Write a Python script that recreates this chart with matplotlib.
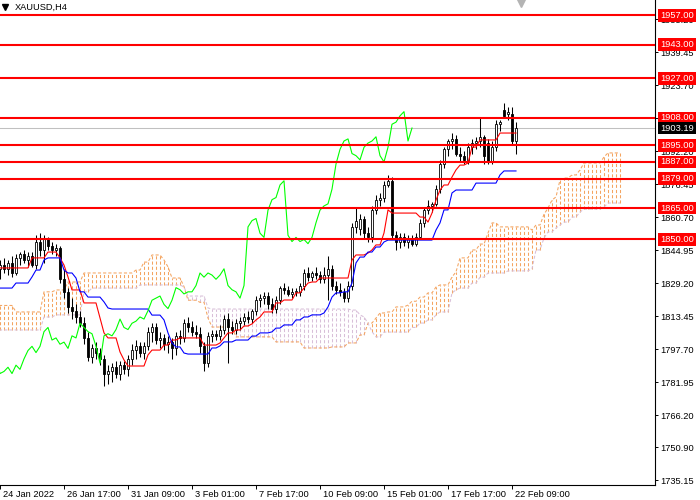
import numpy as np
import matplotlib
matplotlib.use('Agg')
import matplotlib.pyplot as plt
from matplotlib.transforms import blended_transform_factory, ScaledTranslation

plt.rcParams['font.family'] = ['Liberation Sans', 'DejaVu Sans']

# XAUUSD H4 candles (bar index 0..130, one bar = 4 hours)
opens = [1837, 1836, 1838, 1836, 1839, 1834, 1841, 1843, 1840, 1842,
         1838, 1849, 1845, 1850, 1847, 1845, 1846, 1831, 1825, 1818,
         1816, 1813, 1810, 1803, 1794, 1798, 1796, 1793, 1786, 1787,
         1789, 1786, 1790, 1788, 1793, 1797, 1799, 1796, 1799, 1806,
         1808, 1802, 1803, 1800, 1801, 1798, 1804, 1803, 1810, 1808,
         1806, 1805, 1799, 1791, 1804, 1805, 1804, 1807, 1812, 1808,
         1807, 1810, 1811, 1813, 1812, 1816, 1821, 1822, 1823, 1819,
         1817, 1821, 1827, 1826, 1824, 1825, 1825, 1828, 1834, 1832,
         1834, 1833, 1831, 1833, 1836, 1828, 1826, 1825, 1822, 1828,
         1856, 1855, 1860, 1853, 1851, 1864, 1869, 1870, 1876, 1878,
         1852, 1849, 1851, 1849, 1850, 1848, 1851, 1858, 1864, 1866,
         1867, 1874, 1886, 1893, 1897, 1898, 1891, 1890, 1888, 1894,
         1896, 1897, 1899, 1896, 1887, 1894, 1905, 1912, 1910, 1910,
         1897]
highs = [1841, 1840, 1841, 1840, 1842, 1843, 1844, 1845, 1844, 1844,
         1852, 1853, 1852, 1851, 1849, 1848, 1847, 1836, 1827, 1822,
         1819, 1816, 1813, 1806, 1800, 1801, 1798, 1795, 1790, 1791,
         1792, 1792, 1792, 1795, 1800, 1802, 1801, 1801, 1808, 1810,
         1810, 1806, 1805, 1804, 1803, 1806, 1807, 1812, 1813, 1811,
         1809, 1808, 1801, 1806, 1807, 1807, 1809, 1814, 1815, 1811,
         1812, 1813, 1815, 1816, 1817, 1823, 1824, 1825, 1825, 1822,
         1823, 1828, 1829, 1828, 1827, 1827, 1829, 1836, 1837, 1835,
         1837, 1835, 1837, 1842, 1838, 1830, 1829, 1827, 1830, 1858,
         1865, 1862, 1861, 1856, 1866, 1871, 1872, 1878, 1881, 1880,
         1854, 1853, 1853, 1852, 1852, 1853, 1860, 1865, 1869, 1868,
         1876, 1888, 1894, 1898, 1901, 1900, 1894, 1892, 1896, 1898,
         1899, 1908, 1900, 1898, 1897, 1907, 1907, 1915, 1913, 1913,
         1906]
lows = [1834, 1831, 1834, 1833, 1832, 1833, 1838, 1839, 1837, 1837,
        1836, 1842, 1839, 1845, 1843, 1842, 1829, 1822, 1815, 1812,
        1810, 1808, 1800, 1792, 1791, 1793, 1790, 1780, 1781, 1782,
        1784, 1783, 1786, 1785, 1790, 1793, 1794, 1793, 1797, 1801,
        1800, 1798, 1797, 1796, 1793, 1795, 1800, 1801, 1806, 1804,
        1803, 1796, 1787, 1789, 1801, 1802, 1802, 1805, 1791, 1805,
        1805, 1807, 1809, 1810, 1810, 1814, 1818, 1819, 1817, 1815,
        1815, 1819, 1824, 1823, 1822, 1823, 1823, 1826, 1830, 1830,
        1831, 1829, 1829, 1821, 1826, 1824, 1823, 1820, 1820, 1826,
        1853, 1852, 1850, 1849, 1849, 1862, 1866, 1868, 1875, 1850,
        1845, 1846, 1847, 1846, 1847, 1847, 1850, 1856, 1862, 1863,
        1866, 1872, 1884, 1890, 1893, 1890, 1887, 1886, 1886, 1891,
        1893, 1894, 1886, 1886, 1886, 1892, 1902, 1908, 1907, 1895,
        1891]
closes = [1836, 1838, 1836, 1839, 1834, 1841, 1843, 1840, 1842, 1838,
          1849, 1845, 1850, 1847, 1845, 1846, 1831, 1825, 1818, 1816,
          1813, 1810, 1803, 1794, 1798, 1796, 1793, 1786, 1787, 1789,
          1786, 1790, 1788, 1793, 1797, 1799, 1796, 1799, 1806, 1808,
          1802, 1803, 1800, 1801, 1798, 1804, 1803, 1810, 1808, 1806,
          1805, 1799, 1791, 1804, 1805, 1804, 1807, 1812, 1808, 1807,
          1810, 1811, 1813, 1812, 1816, 1821, 1822, 1823, 1819, 1817,
          1821, 1827, 1826, 1824, 1825, 1825, 1828, 1834, 1832, 1834,
          1833, 1831, 1833, 1836, 1828, 1826, 1825, 1822, 1828, 1856,
          1859, 1860, 1853, 1851, 1864, 1869, 1870, 1876, 1878, 1852,
          1849, 1851, 1849, 1850, 1848, 1851, 1858, 1864, 1866, 1867,
          1874, 1886, 1893, 1897, 1898, 1891, 1890, 1888, 1894, 1896,
          1897, 1899, 1890, 1887, 1894, 1905, 1906, 1909, 1911, 1897,
          1903.19]

# Ichimoku lines as (bar, value) step points
tenkan_bar = [1, 9, 13, 16, 17, 18, 19, 22, 26, 27, 28, 31, 32, 33, 38, 39, 42,
              44, 46, 52, 56, 57, 58, 60, 62, 64, 65, 66, 67, 70, 72, 75, 77,
              78, 79, 81, 89, 90, 93, 94, 95, 97, 98, 99, 106, 108, 109, 110,
              111, 112, 114, 115, 116, 118, 119, 121, 126]
tenkan_val = [1836.4, 1841.2, 1844.0, 1841.2, 1837.8, 1832.1, 1825.9, 1819.7,
              1812.5, 1805.4, 1803.0, 1796.3, 1792.5, 1789.6, 1794.9, 1797.2,
              1799.6, 1802.0, 1803.0, 1799.6, 1800.6, 1803.0, 1805.4, 1806.8,
              1808.7, 1809.7, 1811.6, 1813.0, 1815.4, 1819.7, 1821.1, 1824.5,
              1826.8, 1829.2, 1829.7, 1831.6, 1840.2, 1842.6, 1843.5, 1845.0,
              1847.4, 1853.1, 1864.1, 1862.6, 1860.7, 1858.3, 1862.6, 1868.8,
              1873.6, 1876.0, 1879.8, 1883.2, 1885.5, 1886.5, 1894.1, 1897.5,
              1900.8]
kijun_bar = [1, 5, 9, 10, 12, 13, 17, 18, 20, 21, 23, 27, 28, 29, 39, 42, 43,
             44, 45, 47, 48, 54, 56, 57, 60, 64, 66, 69, 70, 72, 75, 77, 79,
             82, 83, 84, 85, 87, 89, 90, 91, 93, 95, 97, 98, 110, 111, 112,
             114, 115, 120, 126, 127]
kijun_val = [1826.8, 1829.2, 1832.1, 1835.4, 1840.2, 1841.2, 1835.4, 1834.0,
             1831.6, 1825.0, 1822.5, 1820.2, 1817.3, 1816.8, 1813.9, 1811.6,
             1805.4, 1800.6, 1798.7, 1795.8, 1795.3, 1798.2, 1799.2, 1801.1,
             1802.0, 1803.9, 1805.4, 1805.9, 1807.7, 1809.2, 1811.6, 1813.0,
             1814.0, 1814.9, 1817.8, 1822.5, 1824.5, 1825.0, 1829.2, 1838.8,
             1841.6, 1844.0, 1846.4, 1848.8, 1849.7, 1854.5, 1857.9, 1864.1,
             1872.2, 1873.6, 1876.9, 1880.8, 1882.7]
span_a_bar = [1, 5, 12, 15, 18, 22, 35, 37, 39, 42, 43, 44, 47, 48, 51, 53, 54,
              60, 70, 77, 84, 88, 91, 93, 95, 96, 98, 100, 103, 104, 106, 108,
              110, 111, 114, 115, 116, 119, 121, 123, 124, 126, 134, 135, 137,
              138, 139, 140, 141, 142, 144, 146, 147, 152, 153]
span_a_val = [1818.5, 1815.4, 1825.0, 1825.9, 1829.7, 1834.0, 1835.4, 1839.2,
              1842.6, 1840.2, 1836.9, 1831.6, 1827.5, 1821.0, 1820.0, 1812.5,
              1808.2, 1803.5, 1801.1, 1798.2, 1798.7, 1800.6, 1804.4, 1810.1,
              1812.5, 1814.9, 1815.4, 1817.8, 1818.7, 1820.5, 1822.5, 1824.5,
              1827.3, 1828.3, 1832.1, 1834.5, 1841.2, 1845.0, 1847.8, 1853.1,
              1857.9, 1856.0, 1854.5, 1856.9, 1862.0, 1865.0, 1868.8, 1870.3,
              1878.4, 1879.3, 1880.8, 1883.2, 1886.5, 1889.4, 1891.3]
span_b_bar = [1, 12, 15, 22, 24, 36, 47, 48, 53, 54, 89, 91, 92, 93, 94, 95,
              97, 104, 106, 108, 110, 111, 114, 115, 116, 119, 121, 123, 128,
              134, 135, 137, 138, 140, 141, 142, 144, 146, 147, 152, 153]
span_b_val = [1806.8, 1813.0, 1814.0, 1825.0, 1826.8, 1828.3, 1827.3, 1823.0,
              1817.3, 1816.8, 1816.3, 1814.0, 1813.0, 1810.0, 1806.0, 1803.5,
              1805.8, 1808.0, 1810.1, 1811.6, 1814.0, 1815.4, 1824.5, 1825.9,
              1826.8, 1829.2, 1832.0, 1834.0, 1835.0, 1836.0, 1845.0, 1850.7,
              1853.6, 1855.5, 1856.9, 1858.3, 1860.7, 1863.1, 1864.5, 1865.5,
              1867.4]

levels = [1957, 1943, 1927, 1908, 1895, 1887, 1879, 1865, 1850]
last_price = 1903.19
ytick_vals = [1955.20, 1939.45, 1923.70, 1907.95, 1892.20, 1876.45, 1860.70,
              1844.95, 1829.20, 1813.45, 1797.70, 1781.95, 1766.20, 1750.90,
              1735.15]
xtick_bars = [1, 17, 33, 49, 65, 81, 97, 113, 129]
xtick_labels = ['24 Jan 2022', '26 Jan 17:00', '31 Jan 09:00', '3 Feb 01:00',
                '7 Feb 17:00', '10 Feb 09:00', '15 Feb 01:00', '17 Feb 17:00',
                '22 Feb 09:00']
shift = 26


def steps(kb, kv, n):
    idx = np.searchsorted(kb, np.arange(n), side='right') - 1
    return np.asarray(kv)[np.clip(idx, 0, None)]


o = np.array(opens, float)
h = np.array(highs, float)
l = np.array(lows, float)
c = np.array(closes, float)
n = len(c)
bars = np.arange(n)

fig = plt.figure(figsize=(7, 5), dpi=100)
ax = fig.add_axes([0, 0.03, 655 / 700, 0.97])
ax.set_xlim(1, 1 + 655 / 4)
ax.set_ylim(1732.8, 1964.3)

# cloud
nc = n + shift
cb = np.arange(nc)
sa = steps(span_a_bar, span_a_val, nc)
sb = steps(span_b_bar, span_b_val, nc)
up = sa >= sb
ax.vlines(cb[up], sb[up], sa[up], colors='#F4A460', lw=0.75,
          linestyles=(0, (3, 2)), zorder=1)
ax.vlines(cb[~up], sa[~up], sb[~up], colors='#D8BFD8', lw=0.75,
          linestyles=(0, (3, 2)), zorder=1)
ax.plot(cb, sa, color='#F4A460', lw=0.75, ls=(0, (3, 2)), zorder=1.2)
ax.plot(cb, sb, color='#D8BFD8', lw=0.75, ls=(0, (3, 2)), zorder=1.2)

# current price line
ax.axhline(last_price, color='#C0C0C0', lw=0.75, zorder=1.5)

# candles
ax.vlines(bars, l, h, colors='black', lw=0.75, zorder=3)
bull = c >= o
body = np.maximum(np.abs(c - o), 0.35)
ax.bar(bars[bull], body[bull], bottom=np.minimum(o, c)[bull], width=0.72,
       color='white', edgecolor='black', lw=0.6, zorder=3.2)
ax.bar(bars[~bull], body[~bull], bottom=np.minimum(o, c)[~bull], width=0.72,
       color='black', edgecolor='black', lw=0.6, zorder=3.2)

# ichimoku lines
ax.plot(bars, steps(tenkan_bar, tenkan_val, n), color='red', lw=0.8, zorder=4)
ax.plot(bars, steps(kijun_bar, kijun_val, n), color='blue', lw=0.8, zorder=4)
ax.plot(bars[:n - shift], c[shift:], color='#00FF00', lw=0.8, zorder=4)

# horizontal levels
blend = blended_transform_factory(ax.transAxes, ax.transData)
for lv in levels:
    ax.axhline(lv, color='red', lw=1.5, zorder=5)
    ax.text(1 + 5 / 655, lv, f'{lv:.2f}', transform=blend, ha='left',
            va='center', color='white', fontsize=6.7, zorder=10, clip_on=False,
            bbox=dict(boxstyle='square,pad=0.2', fc='red', ec='none'))
ax.text(1 + 5 / 655, last_price, f'{last_price:.2f}', transform=blend,
        ha='left', va='center', color='white', fontsize=6.7, zorder=10,
        clip_on=False, bbox=dict(boxstyle='square,pad=0.2', fc='black', ec='none'))

# axes styling
for s in ['left', 'top']:
    ax.spines[s].set_visible(False)
for s in ['right', 'bottom']:
    ax.spines[s].set_color('black')
    ax.spines[s].set_linewidth(0.8)
ax.yaxis.tick_right()
ax.set_yticks(ytick_vals)
ax.set_yticklabels([f'{v:.2f}' for v in ytick_vals])
ax.tick_params(axis='y', direction='out', length=2.5, width=0.7, pad=1.5,
               labelsize=6.7, colors='black')
ax.set_xticks(xtick_bars)
ax.set_xticklabels(xtick_labels)
ax.tick_params(axis='x', direction='out', length=3, width=0.7, pad=0.5,
               labelsize=6.7, colors='black')
off = ScaledTranslation(2 / 72, 0, fig.dpi_scale_trans)
for lbl in ax.get_xticklabels():
    lbl.set_horizontalalignment('left')
    lbl.set_transform(lbl.get_transform() + off)

# title and shift marker
ax.plot([5 / 655], [1 - 7 / 485], marker='v', ms=4, color='black',
        transform=ax.transAxes, clip_on=False)
ax.text(15 / 655, 1 - 7 / 485, 'XAUUSD,H4', transform=ax.transAxes,
        ha='left', va='center', fontsize=6.7, color='black')
ax.plot([521 / 655], [1 - 3 / 485], marker='v', ms=6, color='#B4B4B4',
        transform=ax.transAxes, clip_on=False)

fig.savefig('out.png', dpi=100)
